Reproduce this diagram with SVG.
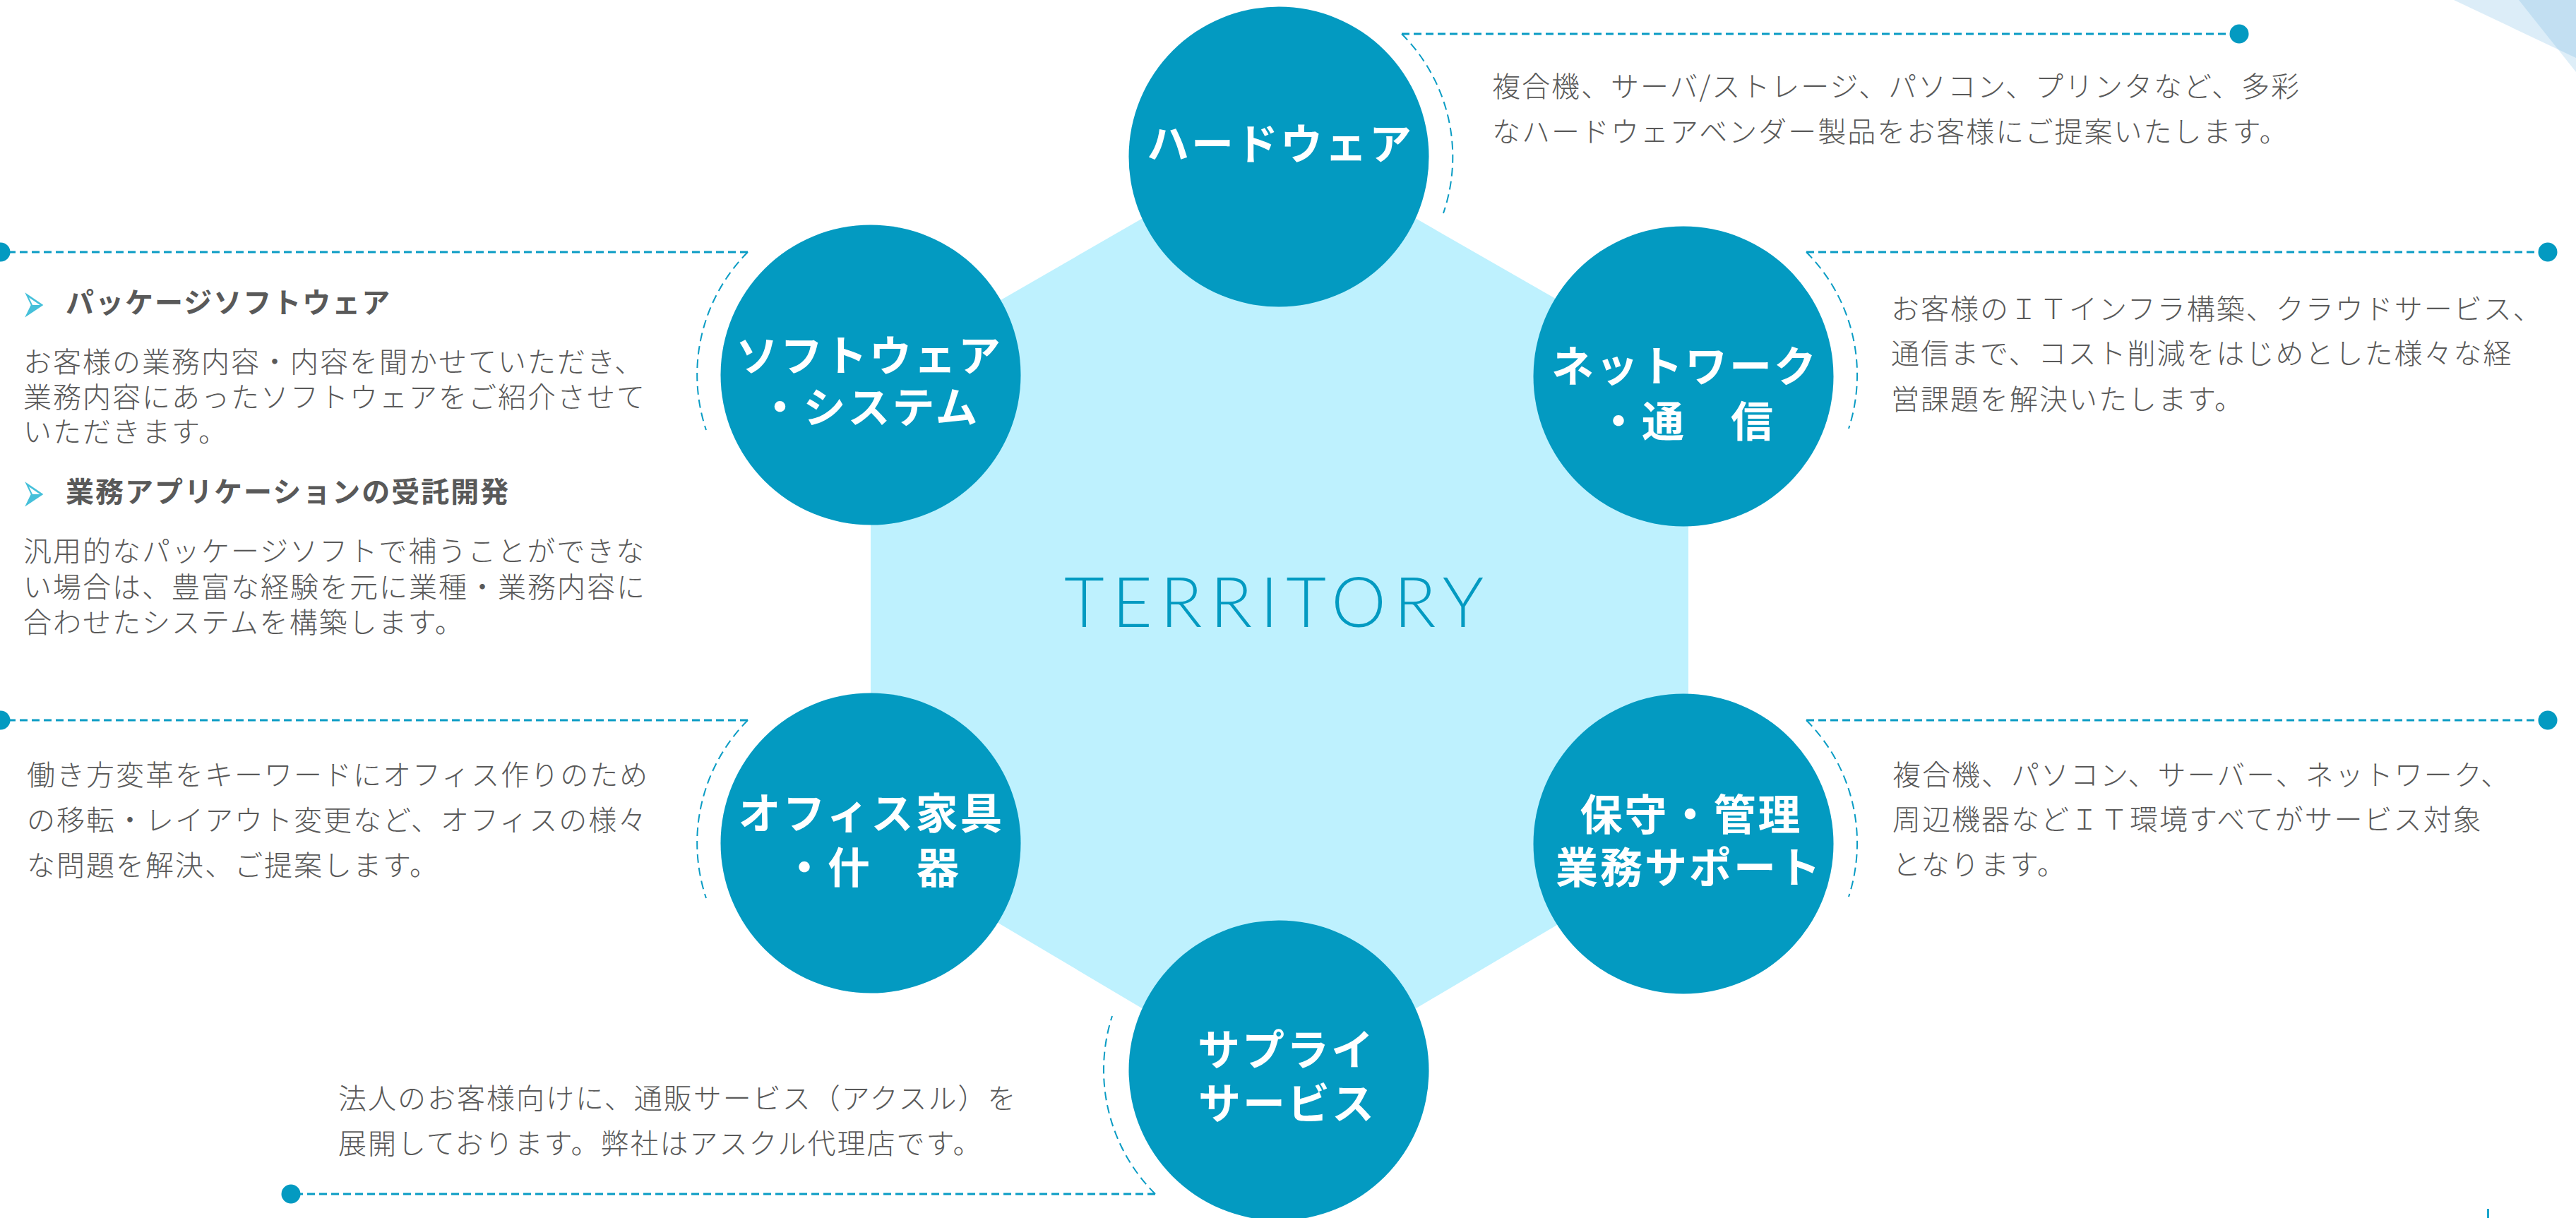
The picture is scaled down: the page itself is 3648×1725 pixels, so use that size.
<svg xmlns="http://www.w3.org/2000/svg" width="3648" height="1725" viewBox="0 0 3648 1725">
<style>
.hex{fill:#BEF1FE}
.circ{fill:#039AC1}
.lbl{font-family:"Noto Sans CJK JP","Noto Sans",sans-serif;font-weight:700;font-size:60px;fill:#fff;text-anchor:middle;letter-spacing:3px}
.desc{font-family:"Noto Sans CJK JP","Noto Sans",sans-serif;font-weight:300;font-size:40px;fill:#595959;letter-spacing:2px}
.head{font-family:"Noto Sans CJK JP","Noto Sans",sans-serif;font-weight:700;font-size:40px;fill:#595959;letter-spacing:2px}
.bul{font-family:"DejaVu Sans",sans-serif;font-size:50px;fill:#45C0DA}
.hline{fill:none;stroke:#0A9CC4;stroke-width:3;stroke-dasharray:11 6}
.arc{fill:none;stroke:#0A9CC4;stroke-width:2;stroke-dasharray:12 7}
.dot{fill:#039AC1}
.title{font-family:Lato,"Liberation Sans",sans-serif;font-weight:300;font-size:98px;fill:#039AC1}
.deco{fill:#5BA8DC}
</style>
<rect width="3648" height="1725" fill="#fff"/>
<g id="decoration">
<polygon class="deco" opacity="0.21" points="3475,0 3648,0 3648,82"/>
<polygon class="deco" opacity="0.2" points="3567,0 3648,0 3648,102"/>
<rect x="3522" y="1712" width="3" height="13" fill="#1AA5CC"/>
</g>
<g id="territory">
<polygon class="hex" points="1811,198 2391,531 2391,1200 1811,1543 1233,1200 1233,531"/>
<text class="title" x="1507" y="888" textLength="594" lengthAdjust="spacing">TERRITORY</text>
</g>
<g id="connectors">
<path class="hline" d="M1985,48 L3171,48"/>
<path class="arc" d="M1985,48 A246,246 0 0 1 2044,302"/>
<circle class="dot" cx="3171" cy="48" r="13.5"/>
<path class="hline" d="M1059,357 L1,357"/>
<path class="arc" d="M1059,357 A246,246 0 0 0 1000,609"/>
<circle class="dot" cx="1" cy="357" r="13.5"/>
<path class="hline" d="M2558,357 L3608,357"/>
<path class="arc" d="M2558,357 A246,246 0 0 1 2618,607"/>
<circle class="dot" cx="3608" cy="357" r="13.5"/>
<path class="hline" d="M1059,1020 L1,1020"/>
<path class="arc" d="M1059,1020 A246,246 0 0 0 1000,1272"/>
<circle class="dot" cx="1" cy="1020" r="13.5"/>
<path class="hline" d="M2558,1020 L3608,1020"/>
<path class="arc" d="M2558,1020 A246,246 0 0 1 2618,1270"/>
<circle class="dot" cx="3608" cy="1020" r="13.5"/>
<path class="hline" d="M1636,1691 L412,1691"/>
<path class="arc" d="M1636,1691 A248,248 0 0 1 1575,1439"/>
<circle class="dot" cx="412" cy="1691" r="13.5"/>
</g>
<g id="node-hardware">
<circle class="circ" cx="1811" cy="222" r="212.5"/>
<text class="lbl" x="1813" y="226">ハードウェア</text>
<text class="desc" x="2113" y="137">複合機、サーバ/ストレージ、パソコン、プリンタなど、多彩</text>
<text class="desc" x="2113" y="201">なハードウェアベンダー製品をお客様にご提案いたします。</text>
</g>
<g id="node-software">
<circle class="circ" cx="1233" cy="531" r="212.5"/>
<text class="lbl" x="1231" y="526">ソフトウェア</text>
<text class="lbl" x="1231" y="599">・システム</text>
<text class="bul" transform="translate(31,457) scale(0.77,1.6)">➢</text>
<text class="head" x="93" y="443">パッケージソフトウェア</text>
<text class="desc" x="33" y="527">お客様の業務内容・内容を聞かせていただき、</text>
<text class="desc" x="33" y="577">業務内容にあったソフトウェアをご紹介させて</text>
<text class="desc" x="33" y="626">いただきます。</text>
<text class="bul" transform="translate(31,725) scale(0.77,1.6)">➢</text>
<text class="head" x="93" y="711">業務アプリケーションの受託開発</text>
<text class="desc" x="33" y="795">汎用的なパッケージソフトで補うことができな</text>
<text class="desc" x="33" y="846">い場合は、豊富な経験を元に業種・業務内容に</text>
<text class="desc" x="33" y="896">合わせたシステムを構築します。</text>
</g>
<g id="node-network">
<circle class="circ" cx="2384" cy="533" r="212.5"/>
<text class="lbl" x="2386" y="541">ネットワーク</text>
<text class="lbl" x="2388" y="619">・通　信</text>
<text class="desc" x="2678" y="452">お客様のＩＴインフラ構築、クラウドサービス、</text>
<text class="desc" x="2678" y="515">通信まで、コスト削減をはじめとした様々な経</text>
<text class="desc" x="2678" y="580">営課題を解決いたします。</text>
</g>
<g id="node-office">
<circle class="circ" cx="1233" cy="1194" r="212.5"/>
<text class="lbl" x="1234" y="1174">オフィス家具</text>
<text class="lbl" x="1235" y="1251">・什　器</text>
<text class="desc" x="38" y="1112">働き方変革をキーワードにオフィス作りのため</text>
<text class="desc" x="38" y="1176">の移転・レイアウト変更など、オフィスの様々</text>
<text class="desc" x="38" y="1240">な問題を解決、ご提案します。</text>
</g>
<g id="node-maintenance">
<circle class="circ" cx="2384" cy="1195" r="212.5"/>
<text class="lbl" x="2395" y="1176">保守・管理</text>
<text class="lbl" x="2392" y="1251">業務サポート</text>
<text class="desc" x="2680" y="1112">複合機、パソコン、サーバー、ネットワーク、</text>
<text class="desc" x="2680" y="1175">周辺機器などＩＴ環境すべてがサービス対象</text>
<text class="desc" x="2680" y="1239">となります。</text>
</g>
<g id="node-supply">
<circle class="circ" cx="1811" cy="1516" r="212.5"/>
<text class="lbl" x="1822" y="1509">サプライ</text>
<text class="lbl" x="1823" y="1585">サービス</text>
<text class="desc" x="479" y="1570">法人のお客様向けに、通販サービス（アクスル）を</text>
<text class="desc" x="479" y="1634">展開しております。弊社はアスクル代理店です。</text>
</g>
</svg>
